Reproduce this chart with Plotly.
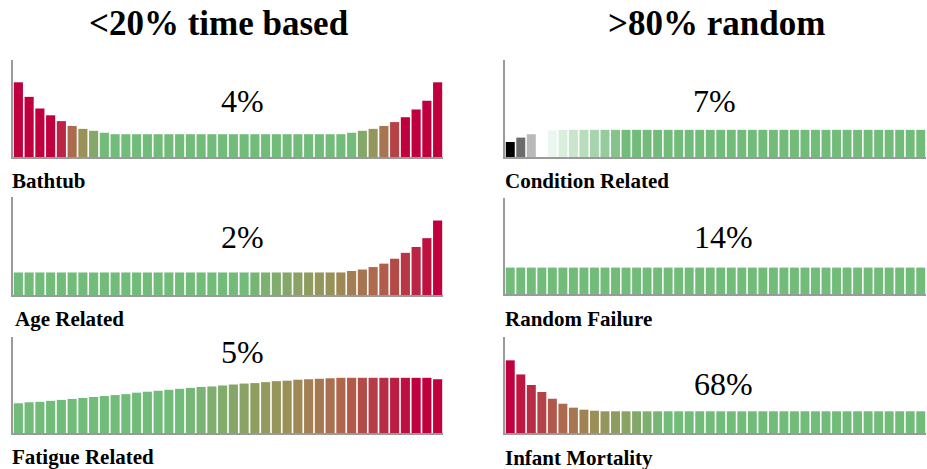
import plotly.graph_objects as go

W, H = 927, 469

# ---------------- data (failure rate, axis top = 100) ----------------
bathtub = [77, 62, 50, 43, 37, 32, 29, 27, 25,
           23.5, 23.5, 23.5, 23.5, 23.5, 23.5, 23.5, 23.5, 23.5, 23.5, 23.5,
           23.5, 23.5, 23.5, 23.5, 23.5, 23.5, 23.5, 23.5, 23.5, 23.5, 23.5,
           25, 27, 29, 32, 36, 41, 49, 58, 77]
age_related = [23, 23, 23, 23, 23, 23, 23, 23, 23, 23, 23, 23, 23, 23, 23, 23,
               23, 23, 23, 23, 23, 23, 23, 23, 23, 23, 23, 23, 23, 23, 23,
               24.5, 26, 28.5, 32, 37, 43, 49, 58, 76]
fatigue_related = [31, 32, 32.5, 33.5, 34.5, 35.5, 36.5, 37.5, 38.5, 39.5,
                   40.5, 42, 43, 44, 45, 46, 47, 48, 48.5, 49.5,
                   50.5, 51.5, 52, 53, 54, 54.5, 55.5, 56, 56.5, 57,
                   57.5, 57.5, 57.5, 57.5, 57.5, 57.5, 57.5, 57.5, 57.5, 56]
condition_related = [15.5, 20, 23.5, 26, 27.5,
                     28, 28, 28, 28, 28, 28, 28, 28, 28, 28, 28, 28, 28, 28, 28,
                     28, 28, 28, 28, 28, 28, 28, 28, 28, 28, 28, 28, 28, 28, 28,
                     28, 28, 28, 28, 28]
random_failure = [27.5, 27.5, 27.5, 27.5, 27.5, 27.5, 27.5, 27.5, 27.5, 27.5,
                  27.5, 27.5, 27.5, 27.5, 27.5, 27.5, 27.5, 27.5, 27.5, 27.5,
                  27.5, 27.5, 27.5, 27.5, 27.5, 27.5, 27.5, 27.5, 27.5, 27.5,
                  27.5, 27.5, 27.5, 27.5, 27.5, 27.5, 27.5, 27.5, 27.5, 27.5]
infant_mortality = [75.7, 61, 50, 42.7, 35.7, 30.5, 26.4, 24.3, 23.2,
                    22.6, 22.6, 22.6, 22.6, 22.6, 22.6, 22.6, 22.6, 22.6, 22.6, 22.6,
                    22.6, 22.6, 22.6, 22.6, 22.6, 22.6, 22.6, 22.6, 22.6, 22.6, 22.6,
                    22.6, 22.6, 22.6, 22.6, 22.6, 22.6, 22.6, 22.6, 22.6]

panel_names = ["Bathtub", "Age Related", "Fatigue Related",
               "Condition Related", "Random Failure", "Infant Mortality"]
panel_shares = ["4%", "2%", "5%", "7%", "14%", "68%"]
group_titles = ["&lt;20% time based", "&gt;80% random"]

series = [bathtub, age_related, fatigue_related,
          condition_related, random_failure, infant_mortality]

# ---------------- styling ----------------
GREEN = (114, 188, 122)
RED = (192, 0, 62)
RG_STOPS = [(0.0, GREEN), (0.45, (154, 146, 88)), (0.7, (176, 100, 76)), (1.0, RED)]


def lerp_stops(stops, t):
    if t <= stops[0][0]:
        return stops[0][1]
    for (a, ca), (b, cb) in zip(stops[:-1], stops[1:]):
        if t <= b:
            f = (t - a) / (b - a) if b > a else 0
            return tuple(ca[k] + (cb[k] - ca[k]) * f for k in range(3))
    return stops[-1][1]


def rg(t):
    c = lerp_stops(RG_STOPS, t)
    return "rgb(%d,%d,%d)" % c


def piecewise(i, pts):
    if i <= pts[0][0]:
        return pts[0][1]
    for (a, va), (b, vb) in zip(pts[:-1], pts[1:]):
        if i <= b:
            return va + (vb - va) * (i - a) / (b - a)
    return pts[-1][1]


# redness along the bar index per panel
red_profiles = [
    [(0, 1), (3.5, 1), (8, 0), (31, 0), (36, 1), (39, 1)],
    [(0, 0), (21, 0), (39, 1)],
    [(0, 0), (15, 0), (37, 1), (39, 1)],
    None,
    [(0, 0), (39, 0)],
    [(0, 1), (15, 0), (39, 0)],
]
COND_STOPS = [(0.0, (0, 0, 0)), (1.2, (130, 130, 130)), (3.0, (255, 255, 255)),
              (11.0, GREEN), (39.0, GREEN)]


def colors_for(p, n):
    out = []
    for i in range(n):
        if red_profiles[p] is None:
            c = lerp_stops(COND_STOPS, i)
            out.append("rgb(%d,%d,%d)" % c)
        else:
            out.append(rg(piecewise(i, red_profiles[p])))
    return out


# panel geometry in pixels: (left, right, top, bottom)
boxes = [
    (13, 443, 60, 157),
    (13, 443, 197, 295),
    (13, 443, 337, 433),
    (505, 926, 60, 157),
    (505, 926, 198, 294),
    (505, 926, 337, 433),
]

fig = go.Figure()
layout = {}
for p, vals in enumerate(series):
    n = len(vals)
    k = "" if p == 0 else str(p + 1)
    fig.add_trace(go.Bar(
        x=list(range(n)), y=vals,
        marker=dict(color=colors_for(p, n), line=dict(width=0)),
        xaxis="x" + k, yaxis="y" + k, hoverinfo="skip", showlegend=False,
    ))
    l, r, t, b = boxes[p]
    axstyle = dict(showline=True, linecolor="#9a9a9a", linewidth=2,
                   showticklabels=False, showgrid=False, zeroline=False,
                   ticks="", fixedrange=True)
    layout["xaxis" + k] = dict(domain=[l / W, r / W], range=[-0.5, n - 0.5],
                               anchor="y" + k, **axstyle)
    layout["yaxis" + k] = dict(domain=[1 - b / H, 1 - t / H], range=[0, 100],
                               anchor="x" + k, **axstyle)

fig.update_layout(**layout)

SERIF = "Liberation Serif"
ann = []
# group titles
for txt, cx in zip(group_titles, [219, 716]):
    ann.append(dict(text="<b>" + txt + "</b>", x=cx / W, y=1 - 24 / H,
                    xref="paper", yref="paper", showarrow=False,
                    xanchor="center", yanchor="middle",
                    font=dict(family=SERIF, size=35, color="black")))
# percentages
pct_pos = [(242, 101), (242, 237), (242, 352), (714, 101), (723, 237), (723, 384)]
for txt, (cx, cy) in zip(panel_shares, pct_pos):
    ann.append(dict(text=txt, x=cx / W, y=1 - cy / H, xref="paper", yref="paper",
                    showarrow=False, xanchor="center", yanchor="middle",
                    font=dict(family=SERIF, size=32, color="black")))
# names
name_pos = [(10, 181), (13, 319), (10, 457), (503, 181), (503, 319), (503, 458)]
for txt, (lx, cy) in zip(panel_names, name_pos):
    ann.append(dict(text="<b>" + txt + "</b>", x=lx / W, y=1 - cy / H,
                    xref="paper", yref="paper", showarrow=False,
                    xanchor="left", yanchor="middle",
                    font=dict(family=SERIF, size=21, color="black")))

fig.update_layout(
    width=W, height=H, margin=dict(l=0, r=0, t=0, b=0),
    paper_bgcolor="white", plot_bgcolor="white",
    bargap=0.15, annotations=ann,
)

fig.write_html("out.html", config={"displayModeBar": False},
               post_script="document.body.style.margin='0';"
                           "document.body.style.overflow='hidden';")
